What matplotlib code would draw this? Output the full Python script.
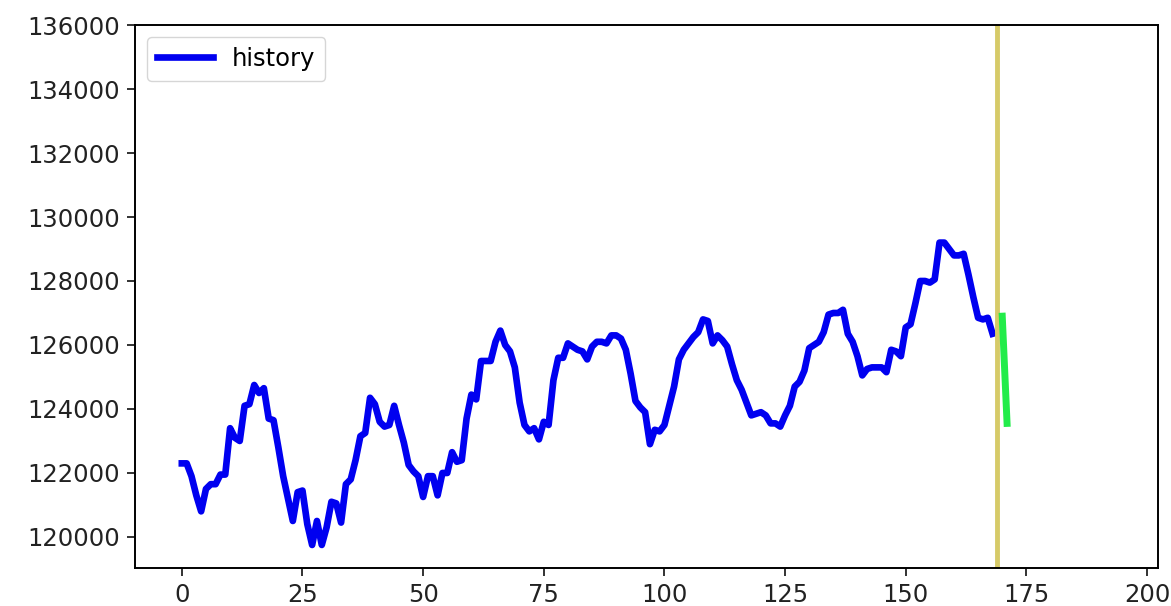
import matplotlib
matplotlib.use("Agg")
import matplotlib.pyplot as plt

# historical series (index 0..168)
history = [
    122300, 122300, 121900, 121300, 120800, 121500, 121650, 121650, 121950, 121950,
    123400, 123100, 123000, 124100, 124150, 124750, 124500, 124650, 123700, 123650,
    122800, 121900, 121200, 120500, 121400, 121450, 120400, 119750, 120500, 119750,
    120300, 121100, 121050, 120450, 121650, 121800, 122400, 123150, 123250, 124350,
    124150, 123600, 123450, 123500, 124100, 123500, 122950, 122250, 122050, 121900,
    121250, 121900, 121900, 121300, 122000, 122000, 122650, 122350, 122400, 123700,
    124450, 124300, 125500, 125500, 125500, 126100, 126450, 126000, 125800, 125300,
    124200, 123500, 123300, 123400, 123050, 123600, 123500, 124900, 125600, 125600,
    126050, 125950, 125850, 125800, 125550, 125950, 126100, 126100, 126050, 126300,
    126300, 126200, 125850, 125100, 124250, 124050, 123900, 122900, 123350, 123300,
    123500, 124100, 124700, 125550, 125850, 126050, 126250, 126400, 126800, 126750,
    126050, 126300, 126150, 125950, 125400, 124900, 124600, 124200, 123800, 123850,
    123900, 123800, 123550, 123550, 123450, 123800, 124100, 124700, 124850, 125200,
    125900, 126000, 126100, 126400, 126950, 127000, 127000, 127100, 126350, 126100,
    125650, 125050, 125250, 125300, 125300, 125300, 125150, 125850, 125800, 125650,
    126550, 126650, 127300, 128000, 128000, 127950, 128050, 129200, 129200, 129000,
    128800, 128800, 128850, 128200, 127500, 126850, 126800, 126850, 126350,
]
split_at = 169
pred_x = [170, 171]
pred_y = [126900, 123550]

fig = plt.figure(figsize=(11.71, 6.06), dpi=100)
ax = fig.add_axes([0.1153, 0.0627, 0.8737, 0.896])

ax.plot(range(len(history)), history, color="#0000f0", lw=4.8,
        solid_joinstyle="round", label="history")
ax.axvline(split_at, color="#d6ca68", lw=3.5)
ax.plot(pred_x, pred_y, color="#22ec4a", lw=5)

ax.set_xlim(-9.7, 202.3)
ax.set_ylim(119030, 136000)
ax.set_xticks(range(0, 201, 25))
ax.set_yticks(range(120000, 136001, 2000))
ax.tick_params(labelsize=17.5, length=6, width=1.3, pad=5, colors="#222222")
for s in ax.spines.values():
    s.set_linewidth(1.4)

ax.legend(loc="upper left", fontsize=17.5, handlelength=2.3, borderpad=0.4)

fig.savefig("out.png", dpi=100)
